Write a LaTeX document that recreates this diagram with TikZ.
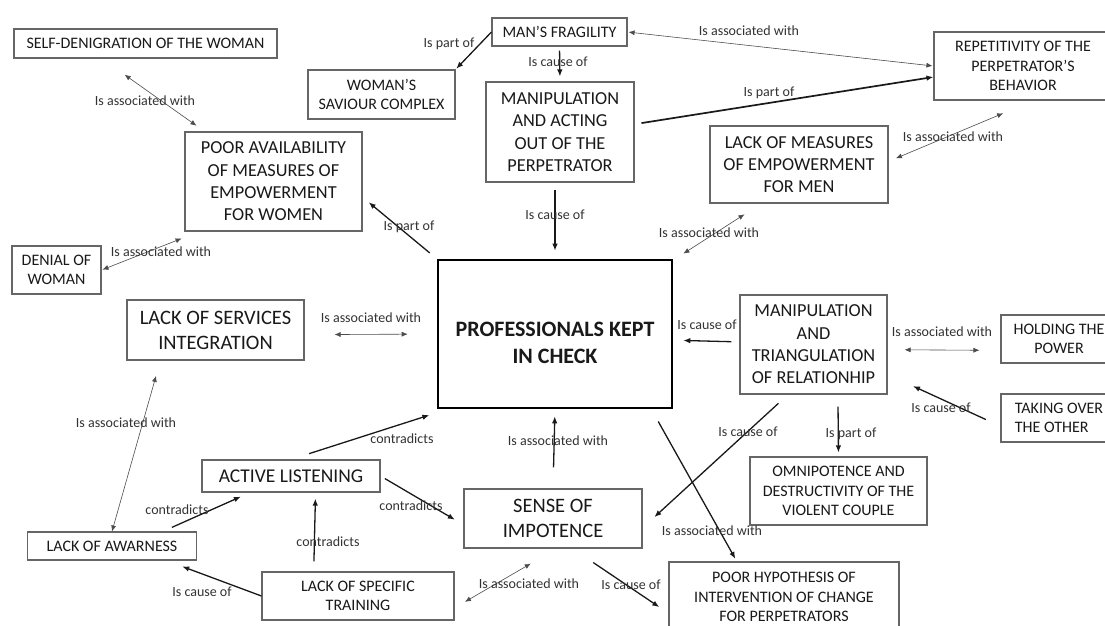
\documentclass[tikz,border=0pt]{standalone}
\usepackage{fontspec}
\setmainfont{Carlito}
\usetikzlibrary{arrows.meta}

\begin{document}
\begin{tikzpicture}[x=1pt, y=-1pt,
    box/.style={draw=black!60, line width=1.1pt, align=center, inner sep=2pt, text=black!90},
    boxs/.style={box, font=\fontsize{16}{19.5}\selectfont},
    boxm/.style={box, font=\fontsize{18.3}{22.3}\selectfont},
    boxl/.style={box, font=\fontsize{20.5}{25}\selectfont},
    lbl/.style={font=\fontsize{14}{16}\selectfont, text=black!80, inner sep=0pt},
    link/.style={-{Latex[length=7pt,width=5.5pt]}, line width=1.3pt, black!90},
    assoc/.style={{Latex[length=6pt,width=5pt]}-{Latex[length=6pt,width=5pt]}, line width=0.6pt, black!70}]

\path[use as bounding box, fill=white] (0,0) rectangle (1105,625);

% =============================================
% CAJAS
% =============================================
\node[boxs, minimum width=263pt, minimum height=29pt] (selfden) at (145.5,43.5) {SELF-DENIGRATION OF THE WOMAN};
\node[boxs, minimum width=147pt, minimum height=49pt] (saviour) at (381.5,94.5) {WOMAN’S\\SAVIOUR COMPLEX};
\node[boxs, minimum width=135pt, minimum height=28pt] (fragility) at (559.5,32) {MAN’S FRAGILITY};
\node[boxm, minimum width=148pt, minimum height=100pt] (acting) at (560,132) {MANIPULATION\\AND ACTING\\OUT OF THE\\PERPETRATOR};
\node[boxs, minimum width=178pt, minimum height=68pt] (repet) at (1023,66) {REPETITIVITY OF THE\\PERPETRATOR’S\\BEHAVIOR};
\node[boxm, minimum width=178pt, minimum height=77pt] (menemp) at (799,164.5) {LACK OF MEASURES\\OF EMPOWERMENT\\FOR MEN};
\node[boxm, minimum width=177pt, minimum height=99pt] (womemp) at (273.5,181.5) {POOR AVAILABILITY\\OF MEASURES OF\\EMPOWERMENT\\FOR WOMEN};
\node[boxs, minimum width=89pt, minimum height=48pt] (denial) at (56.5,270) {DENIAL OF\\WOMAN};
\node[boxl, minimum width=177pt, minimum height=60pt] (services) at (215.5,330) {LACK OF SERVICES\\INTEGRATION};

% Caja central
\node[draw=black, line width=2.6pt, align=center, font=\fontsize{22}{27}\selectfont\bfseries, text=black!90,
      minimum width=234pt, minimum height=148pt] (kept) at (555,334) {\rule{0pt}{32pt}PROFESSIONALS KEPT\\IN CHECK};

\node[boxm, minimum width=147pt, minimum height=99pt] (triang) at (813.5,344.5) {MANIPULATION\\AND\\TRIANGULATION\\OF RELATIONHIP};
\node[boxs, minimum width=116pt, minimum height=48pt] (power) at (1059,339) {HOLDING THE\\POWER};
\node[boxs, minimum width=116pt, minimum height=48pt, align=left] (takeover) at (1059,418) {TAKING OVER\\THE OTHER};
\node[boxs, minimum width=177pt, minimum height=68pt] (omnip) at (838.5,491) {OMNIPOTENCE AND\\DESTRUCTIVITY OF THE\\VIOLENT COUPLE};
\node[box, font=\fontsize{19.5}{23.5}\selectfont, minimum width=178pt, minimum height=32pt] (listening) at (291,476) {ACTIVE LISTENING};
\node[boxs, minimum width=169.5pt, minimum height=28pt] (awareness) at (112,546) {LACK OF AWARNESS};
\node[boxs, minimum width=192pt, minimum height=48pt] (training) at (358,596) {LACK OF SPECIFIC\\TRAINING};
\node[boxl, minimum width=178pt, minimum height=59pt] (impotence) at (553,518.5) {SENSE OF\\IMPOTENCE};
\node[boxs, minimum width=230pt, minimum height=70pt] (hypoth) at (784,597) {POOR HYPOTHESIS OF\\INTERVENTION OF CHANGE\\FOR PERPETRATORS};

% =============================================
% FLECHAS
% =============================================
\draw[assoc, shorten <=28pt, shorten >=10pt] (selfden.199) -- (womemp.144);
\draw[link, shorten >=1pt] (fragility.west) -- (saviour.north east);
\draw[link, shorten <=4pt, shorten >=5pt] (fragility.south) -- (acting.north);
\draw[assoc, shorten <=1pt, shorten >=1pt] (fragility.east) -- (repet.west);
\draw[link, line width=1.7pt, shorten <=7pt] (acting.6) -- (repet.187);
\draw[link, shorten <=7pt, shorten >=8pt] (kept.north |- acting.south) -- (kept.north);
\draw[link, shorten <=9pt, shorten >=8pt] (kept.north west) -- (womemp.350);
\draw[assoc, shorten <=1pt, shorten >=19pt] (denial.east) -- (womemp.214);
\draw[assoc, shorten <=30pt, shorten >=29pt] (services.-3) -- (kept.west);
\draw[assoc, shorten >=16pt] (awareness.north) -- (services.209);
\draw[link, shorten <=19pt, shorten >=19pt] (listening.north) -- (kept.215);
\draw[link, shorten <=5pt, shorten >=10pt] (listening.east) -- (impotence.184);
\draw[link, shorten <=10pt, shorten >=10pt] (awareness.16) -- (listening.202);
\draw[link, shorten <=10pt, shorten >=6pt] (training.151) -- (listening.-34);
\draw[link, shorten >=17pt] (training.west) -- (awareness.-15);
\draw[assoc, shorten <=12pt, shorten >=30pt] (training.-7) -- (impotence.-83);
\draw[link, shorten <=21pt, shorten >=7pt] (impotence.north) -- (kept.south);
\draw[link, shorten <=8pt, shorten >=10pt] (triang.178) -- (kept.-3);
\draw[assoc, shorten <=17pt, shorten >=21pt] (triang.-4) -- (power.191);
\draw[link, shorten <=16pt, shorten >=28pt] (takeover.188) -- (triang.-22);
\draw[link, shorten <=12pt, shorten >=4pt] (triang.-64) -- (omnip.north);
\draw[link, shorten <=13pt, shorten >=16pt] (triang.243) -- (impotence.-6);
\draw[link, shorten <=14pt, shorten >=3pt] (kept.-38.5) -- (hypoth.143);
\draw[link, shorten <=25pt, shorten >=11pt] (impotence.-57) -- (hypoth.188);
\draw[assoc, shorten <=8pt, shorten >=33pt] (menemp.2) -- (repet.-73);
\draw[assoc, shorten <=12pt, shorten >=20pt] (kept.32) -- (menemp.226);

% =============================================
% ETIQUETAS
% =============================================
\node[lbl] (lselfden) at (145,101) {Is associated with};
\node[lbl] (lsaviour) at (449,44) {Is part of};
\node[lbl] (lacting) at (558,62) {Is cause of};
\node[lbl] (lfragrep) at (749,31) {Is associated with};
\node[lbl] (lactrep) at (769,93) {Is part of};
\node[lbl] (lactkept) at (555,215) {Is cause of};
\node[lbl] (lwomemp) at (409,227) {Is part of};
\node[lbl] (ldenial) at (161,252) {Is associated with};
\node[lbl] (lservices) at (371,318) {Is associated with};
\node[lbl] (lawaserv) at (126,423) {Is associated with};
\node[lbl] (llistkept) at (402,439) {contradicts};
\node[lbl] (llistimp) at (411,506) {contradicts};
\node[lbl] (lawalist) at (177,510) {contradicts};
\node[lbl] (ltrainlist) at (328,542) {contradicts};
\node[lbl] (ltrainawa) at (202,592) {Is cause of};
\node[lbl] (ltrainimp) at (529,584) {Is associated with};
\node[lbl] (limpkept) at (558,441) {Is associated with};
\node[lbl] (ltriankept) at (707,325) {Is cause of};
\node[lbl] (lpower) at (942,332) {Is associated with};
\node[lbl] (ltakeover) at (941,408) {Is cause of};
\node[lbl] (lomnip) at (851,434) {Is part of};
\node[lbl] (ltrianimp) at (748,432) {Is cause of};
\node[lbl] (lkepthyp) at (712,531) {Is associated with};
\node[lbl] (limphyp) at (631,585) {Is cause of};
\node[lbl] (lmenrep) at (953,137) {Is associated with};
\node[lbl] (lkeptmen) at (709,233) {Is associated with};

\end{tikzpicture}
\end{document}
